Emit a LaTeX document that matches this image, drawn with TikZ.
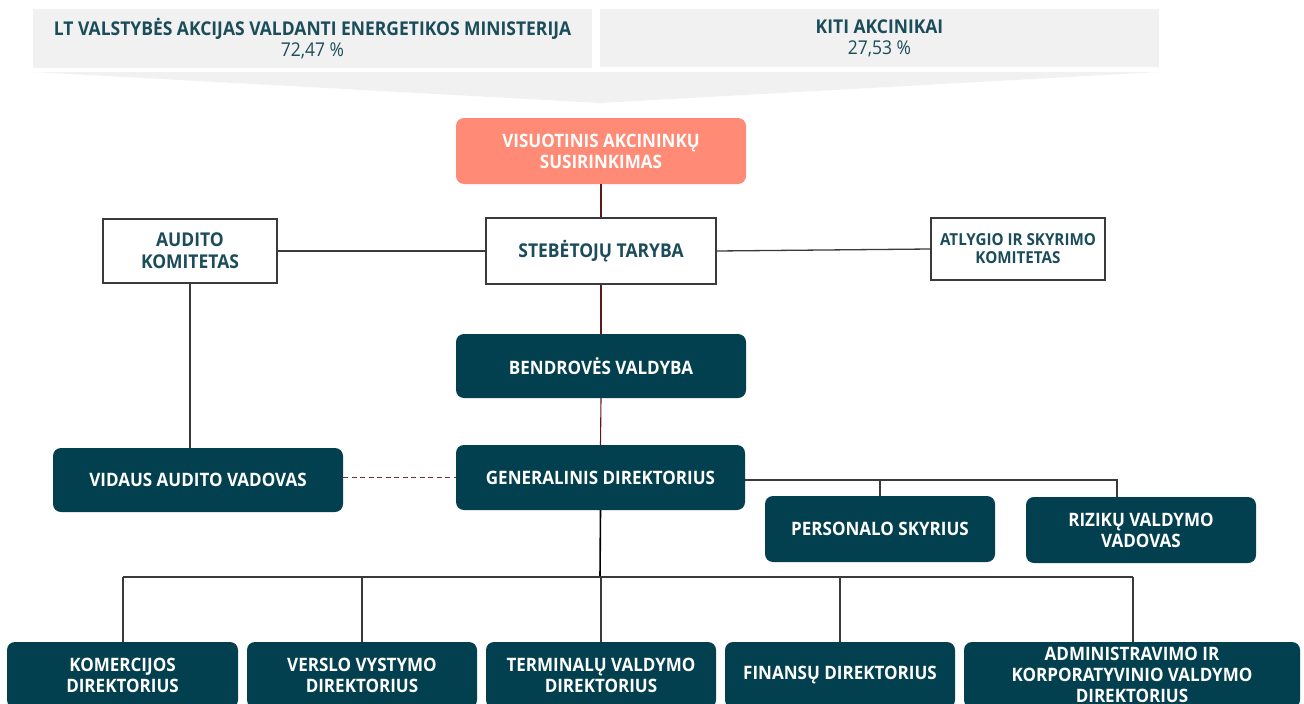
\documentclass[tikz,border=0pt]{standalone}
\usepackage{fontspec}
\setmainfont{Open Sans}[FakeStretch=0.92]
\usetikzlibrary{calc}
\definecolor{teal}{HTML}{03404F}
\definecolor{hdr}{HTML}{1B4C5A}
\definecolor{salmon}{HTML}{FF8A75}
\definecolor{lgray}{HTML}{F1F1F1}
\definecolor{lred}{HTML}{5E1A1A}
\definecolor{dred}{HTML}{7A2E2E}
\definecolor{lgr}{HTML}{3A3A3A}
\tikzset{
  darkbox/.style={rectangle, rounded corners=8pt, fill=teal, text=white, font=\bfseries\fontsize{18.5}{21}\selectfont, align=center, inner sep=0pt},
  whitebox/.style={rectangle, draw=lgr, line width=1.3pt, fill=white, text=hdr, font=\bfseries\fontsize{19}{22}\selectfont, align=center, inner sep=0pt},
  hdrbox/.style={rectangle, fill=lgray, text=hdr, align=center, inner sep=0pt, font=\fontsize{19}{21}\selectfont},
  redline/.style={draw=lred, line width=1.1pt},
  grayline/.style={draw=lgr, line width=1.3pt},
}
\begin{document}
\begin{tikzpicture}[x=1pt,y=-1pt]
\useasboundingbox (0,0) rectangle (1304,704);
% header boxes
\node[hdrbox, minimum width=559pt, minimum height=59pt] (min) at (312.5,38.5)
  {\textbf{LT VALSTYBĖS AKCIJAS VALDANTI ENERGETIKOS MINISTERIJA}\\72,47 \%};
\node[hdrbox, minimum width=559pt, minimum height=58pt] (kiti) at (879.5,38)
  {\textbf{KITI AKCINIKAI}\\27,53 \%};
\fill[lgray] (33,72) -- (1159,72) -- (600,103) -- cycle;
% nodes
\node[darkbox, fill=salmon, minimum width=290pt, minimum height=66pt] (vis) at (601,151) {VISUOTINIS AKCININKŲ\\SUSIRINKIMAS};
\node[whitebox, minimum width=230pt, minimum height=66pt] (steb) at (601,251) {STEBĖTOJŲ TARYBA};
\node[whitebox, minimum width=174pt, minimum height=64pt] (aud) at (190,251) {AUDITO\\KOMITETAS};
\node[whitebox, minimum width=174pt, minimum height=62pt, font=\bfseries\fontsize{16.5}{18}\selectfont] (atl) at (1018,249) {ATLYGIO IR SKYRIMO\\KOMITETAS};
\node[darkbox, minimum width=290pt, minimum height=64pt] (bend) at (601,366) {BENDROVĖS VALDYBA};
\node[darkbox, minimum width=289pt, minimum height=65pt] (gen) at (600.5,477.5) {GENERALINIS DIREKTORIUS};
\node[darkbox, minimum width=290pt, minimum height=64pt] (vid) at (198,480) {VIDAUS AUDITO VADOVAS};
\node[darkbox, minimum width=230pt, minimum height=66pt] (pers) at (880,529) {PERSONALO SKYRIUS};
\node[darkbox, minimum width=230pt, minimum height=66pt] (riz) at (1141,530) {RIZIKŲ VALDYMO\\VADOVAS};
\node[darkbox, minimum width=231pt, minimum height=66pt] (kom) at (122.5,675) {KOMERCIJOS\\DIREKTORIUS};
\node[darkbox, minimum width=230pt, minimum height=66pt] (ver) at (362,675) {VERSLO VYSTYMO\\DIREKTORIUS};
\node[darkbox, minimum width=230pt, minimum height=66pt] (ter) at (601,675) {TERMINALŲ VALDYMO\\DIREKTORIUS};
\node[darkbox, minimum width=230pt, minimum height=66pt] (fin) at (840,675) {FINANSŲ DIREKTORIUS};
\node[darkbox, minimum width=336pt, minimum height=66pt] (adm) at (1132,675) {ADMINISTRAVIMO IR\\KORPORATYVINIO VALDYMO\\DIREKTORIUS};
% connectors
\draw[redline] (vis.south) -- (steb.north);
\draw[redline] (steb.south) -- (bend.north);
\draw[redline] (bend.south) -- (gen.north);
\draw[grayline] (aud.east) -- (steb.west);
\draw[grayline] (steb.east) -- (atl.west);
\draw[grayline] (aud.south) -- (aud.south |- vid.north);
\draw[draw=dred, line width=1.7pt, dash pattern=on 5pt off 3.5pt] (gen.west -| vid.east) -- (gen.west);
\coordinate (gr) at (745,480);
\coordinate (rj) at (1117,480);
\draw[grayline] (gr) -- (rj) -- (rj |- riz.north);
\draw[grayline] (gr -| pers.north) -- (pers.north);
\coordinate (bus) at (600,577);
\coordinate (busl) at (123,577);
\coordinate (busr) at (1133,577);
\draw[grayline, draw=black, line width=1.6pt] (gen.south) -- (bus);
\draw[grayline] (busl) -- (busr);
\draw[grayline] (busl) -- (busl |- kom.north);
\draw[grayline] (bus -| ver.north) -- (ver.north);
\draw[grayline] (bus -| ter.north) -- (ter.north);
\draw[grayline] (bus -| fin.north) -- (fin.north);
\draw[grayline] (busr) -- (busr |- adm.north);
\end{tikzpicture}
\end{document}
